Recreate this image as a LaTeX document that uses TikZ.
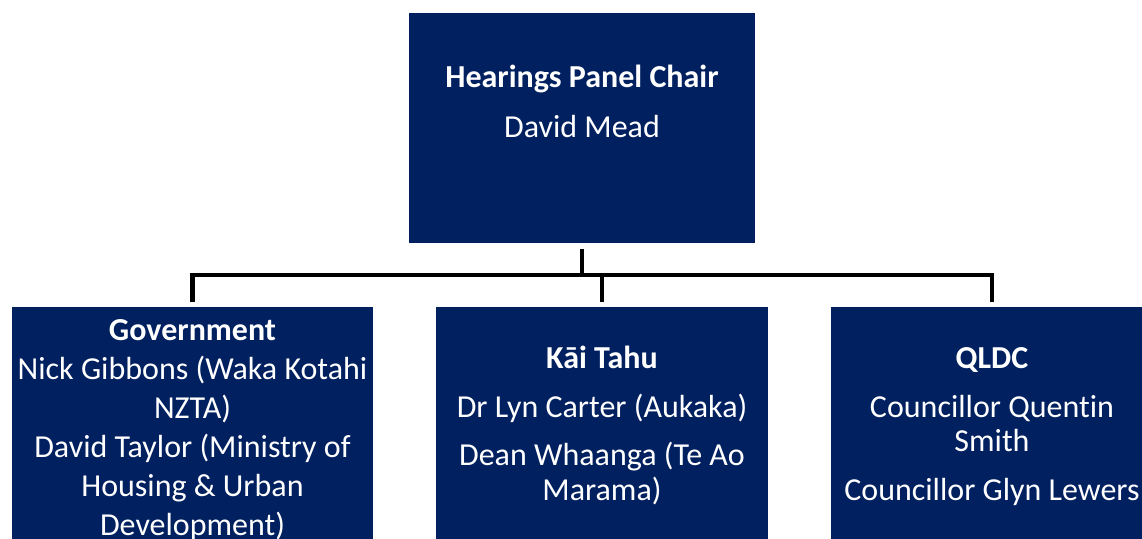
\documentclass[tikz,border=0pt]{standalone}
\usepackage{fontspec}
\setmainfont{Carlito}[Ligatures=NoCommon]
\usetikzlibrary{positioning}

\definecolor{panelnavy}{HTML}{002060}

\tikzset{
  panel/.style={fill=panelnavy, draw=none, inner sep=0pt},
  paneltext/.style={text=white, align=center, inner sep=0pt},
  link/.style={draw=black, line width=4.5bp},
}

\begin{document}
\begin{tikzpicture}[x=1bp,y=-1bp]

\useasboundingbox (0,0) rectangle (1142,539);
\clip (0,0) rectangle (1142,539);

% Draw Chair box

\node[panel, minimum width=346bp, minimum height=230bp] (chair) at (582,128) {};

\node[paneltext, font=\fontsize{32bp}{34bp}\selectfont] (chairtext) at (582,101)
  {\textbf{Hearings Panel Chair}\\[16bp]David Mead};

% Draw Member boxes

\node[panel, minimum width=361bp, minimum height=232bp] (gov) at (192.5,423) {};
\node[paneltext, font=\fontsize{32bp}{39bp}\selectfont] (govtext) at (192.5,430)
  {\textbf{Government}\\Nick Gibbons (Waka Kotahi\\NZTA)\\David Taylor (Ministry of\\Housing \& Urban\\Development)};

\node[panel, minimum width=332bp, minimum height=232bp] (kai) at (602,423) {};
\node[paneltext, font=\fontsize{32bp}{35bp}\selectfont] (kaitext) at (602,425)
  {\textbf{Kāi Tahu}\\[14bp]Dr Lyn Carter (Aukaka)\\[13bp]Dean Whaanga (Te Ao\\Marama)};

\node[panel, minimum width=322bp, minimum height=232bp] (qldc) at (992,423) {};
\node[paneltext, font=\fontsize{32bp}{34bp}\selectfont] (qldctext) at (992,427)
  {\textbf{QLDC}\\[15bp]Councillor Quentin\\Smith\\[15bp]Councillor Glyn Lewers};

% Draw Connectors

\coordinate (bus) at (582,275);

\draw[link] ([yshift=-6bp]chair.south) -- (bus);

\draw[link] ([yshift=5bp]gov.north) |- (bus) -| ([yshift=5bp]qldc.north);

\draw[link] ([yshift=5bp]kai.north) -- (kai.north |- bus);

\end{tikzpicture}
\end{document}
